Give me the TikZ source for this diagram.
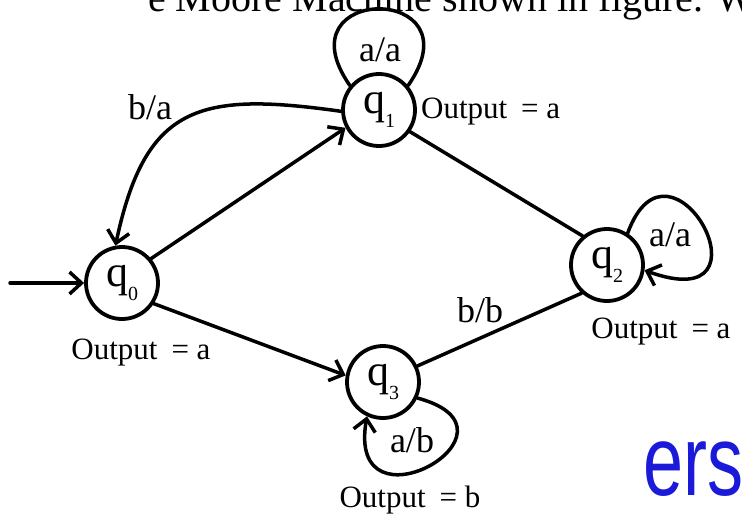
\documentclass[tikz,border=0pt]{standalone}
\usepackage{graphicx}
\usepackage{fontspec}
\setmainfont{Liberation Serif}
\newfontfamily\wmfont{Liberation Sans}
\usepackage{tikz}
\usetikzlibrary{arrows.meta}
\definecolor{wmblue}{HTML}{1A1AD8}
\newcommand{\qs}[1]{q\raisebox{-0.3em}{\fontsize{20}{20}\selectfont #1}}
\tikzset{
    every picture/.style={line cap=round,line join=round},
    mstate/.style={draw,circle,line width=3.8pt,minimum size=72pt,inner sep=0pt,
      font=\fontsize{44}{44}\selectfont},
    translabel/.style={font=\fontsize{36}{36}\selectfont,inner sep=0pt},
    outlabel/.style={font=\fontsize{31}{31}\selectfont,inner sep=0pt},
    transline/.style={line width=3.5pt},
    transarrow/.style={transline,-{Straight Barb[length=12pt,width=22pt]}}
}
\begin{document}
\begin{tikzpicture}[x=1pt,y=1pt]
  \useasboundingbox (0,0) rectangle (742,-515);
  \begin{scope}
    \clip (0,0) rectangle (742,-515);
    \node[anchor=base west,inner sep=0pt,font=\fontsize{40}{40}\selectfont] (heading)
      at (148,-11) {e Moore Machine shown in figure. W};
  \end{scope}
  % states
  \node[mstate] (q0) at (122,-283) {\qs{0}};
  \node[mstate] (q1) at (379,-110) {\qs{1}};
  \node[mstate] (q2) at (607,-265) {\qs{2}};
  \node[mstate] (q3) at (383,-382) {\qs{3}};
  \coordinate (start) at (10,-283);
  % transitions
  \draw[transarrow] (start) -- (q0);
  \draw[transarrow] (q0.40) -- (q1.208);
  \draw[transarrow] (q1.182) to[out=172,in=78,looseness=1.4] (q0.100);
  \draw[transline] (q1.-35) -- (q2.130);
  \draw[transarrow] (q0.-33) -- (q3.170);
  \draw[transline] (q3.25) -- (q2.228);
  \draw[transline] (q1.140) .. controls +(125:125) and +(55:125) .. (q1.40);
  \draw[transarrow] (q2.57) .. controls +(70:125) and +(-20:145) .. (q2.-8);
  \draw[transarrow] (q3.-25) .. controls +(-15:125) and +(-100:125) .. (q3.-115);
  % labels
  \node[translabel] (ba) at (150,-107) {b/a};
  \node[translabel] (aa1) at (380,-50) {a/a};
  \node[translabel] (aa2) at (670,-235) {a/a};
  \node[translabel] (ab) at (412,-440) {a/b};
  \node[translabel] (bb) at (480,-310) {b/b};
  \node[outlabel,anchor=west] (out1) at (421,-112) {Output\hspace{0.45em}= a};
  \node[outlabel] (out0) at (141,-353) {Output\hspace{0.45em}= a};
  \node[outlabel] (out2) at (661,-332) {Output\hspace{0.45em}= a};
  \node[outlabel] (out3) at (410,-500) {Output\hspace{0.45em}= b};
  \node[anchor=base west,inner sep=0pt,text=wmblue,font=\wmfont\fontsize{100}{100}\selectfont]
    (wm) at (643,-495) {\scalebox{0.72}[1]{ers}};
\end{tikzpicture}
\end{document}
